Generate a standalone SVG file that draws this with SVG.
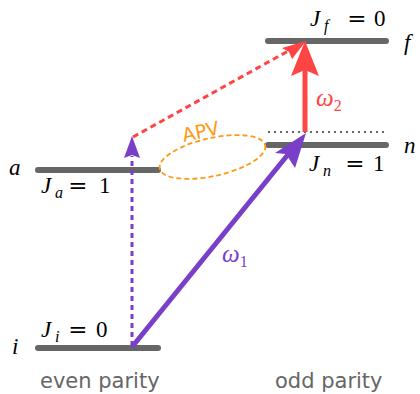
<svg xmlns="http://www.w3.org/2000/svg" width="420" height="394" viewBox="0 0 420 394">
<style>
.lvl{stroke:#666;stroke-width:6;stroke-linecap:round}
.m{font-family:"Liberation Serif",serif;font-size:23px;fill:#000}
.mi{font-style:italic}
.eq{font-family:"DejaVu Serif",serif;font-size:23px;fill:#000;text-anchor:middle}
.sb{font-family:"Liberation Serif",serif;font-size:16px;font-style:italic;fill:#000}
.par{font-family:"DejaVu Sans",sans-serif;font-size:21px;fill:#666}
</style>
<rect width="420" height="394" fill="#fff"/>
<g id="level-f"><line class="lvl" x1="268" y1="41" x2="386" y2="41"/>
<text class="m mi" x="310" y="26">J</text><text class="sb" x="324" y="31">f</text><text class="eq" x="357" y="26">=</text><text class="m" x="374" y="26">0</text>
<text class="m mi" x="404" y="50">f</text></g>
<g id="level-n"><line x1="268" y1="132" x2="388" y2="132" stroke="#666" stroke-width="2" stroke-dasharray="2,4"/>
<line class="lvl" x1="268" y1="145" x2="386" y2="145"/>
<text class="m mi" x="309" y="171">J</text><text class="sb" x="323" y="176">n</text><text class="eq" x="355" y="171">=</text><text class="m" x="373" y="171">1</text>
<text class="m mi" x="404" y="153">n</text></g>
<g id="level-a"><line class="lvl" x1="38" y1="170" x2="158" y2="170"/>
<text class="m mi" x="41" y="193">J</text><text class="sb" x="55" y="198">a</text><text class="eq" x="78" y="193">=</text><text class="m" x="99" y="193">1</text>
<text class="m mi" x="9" y="175">a</text></g>
<g id="level-i"><line class="lvl" x1="38" y1="348" x2="158" y2="348"/>
<text class="m mi" x="41" y="337">J</text><text class="sb" x="55" y="342">i</text><text class="eq" x="78" y="337">=</text><text class="m" x="96" y="337">0</text>
<text class="m mi" x="12" y="354">i</text></g>
<g id="connectors">
<line x1="132" y1="346" x2="132" y2="156" stroke="#7a3fc9" stroke-width="3" stroke-dasharray="5,4"/>
<polygon points="132,136 124,158 132,155 140,158" fill="#7a3fc9"/>
<line x1="133" y1="137" x2="290" y2="50" stroke="#ff4444" stroke-width="3" stroke-dasharray="6,4"/>
<polygon points="306,41 282,48 289,52 292,59" fill="#ff4444"/>
<line x1="305" y1="132" x2="305" y2="70" stroke="#ff4444" stroke-width="5"/>
<polygon points="305,41 291,76 305,70 319,76" fill="#ff4444"/>
<line x1="132" y1="347" x2="290" y2="152" stroke="#7a3fc9" stroke-width="5"/>
<polygon points="306,133 275,153 286,154 295,168" fill="#7a3fc9"/>
<ellipse cx="212.5" cy="157" rx="54" ry="19" transform="rotate(-12.5 212.5 157)" fill="none" stroke="#ff9914" stroke-width="1.8" stroke-dasharray="5,3"/>
<text x="202" y="138" transform="rotate(-12 202 138)" text-anchor="middle" font-family="DejaVu Sans,sans-serif" font-size="19" fill="#ff9914">APV</text>
<text x="316" y="106" font-family="Liberation Serif,serif" font-size="25" font-style="italic" fill="#ff4444">ω<tspan font-size="16" font-style="normal" dy="5">2</tspan></text>
<text x="222" y="262" font-family="Liberation Serif,serif" font-size="25" font-style="italic" fill="#7a3fc9">ω<tspan font-size="16" font-style="normal" dy="5">1</tspan></text>
</g>
<text class="par" x="40" y="388">even parity</text>
<text class="par" x="275" y="388">odd parity</text>
</svg>
